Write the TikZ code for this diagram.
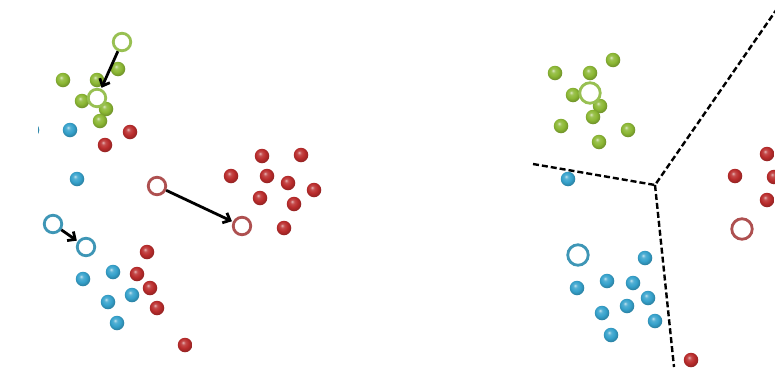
\documentclass[tikz,border=0pt]{standalone}
\usetikzlibrary{arrows.meta}
\definecolor{grn}{RGB}{140,184,52}
\definecolor{cyn}{RGB}{54,162,204}
\definecolor{rd}{RGB}{186,44,44}
\definecolor{grnring}{RGB}{152,192,82}
\definecolor{cynring}{RGB}{62,150,182}
\definecolor{rdring}{RGB}{174,80,80}
% glossy sphere shadings, lit from the upper left
\pgfdeclareradialshading{gball}{\pgfqpoint{-7bp}{9bp}}{color(0bp)=(grn!30!white); color(7bp)=(grn!85!white); color(17bp)=(grn); color(27bp)=(grn!80!black); color(50bp)=(grn!55!black)}
\pgfdeclareradialshading{cball}{\pgfqpoint{-7bp}{9bp}}{color(0bp)=(cyn!30!white); color(7bp)=(cyn!85!white); color(17bp)=(cyn); color(27bp)=(cyn!80!black); color(50bp)=(cyn!55!black)}
\pgfdeclareradialshading{rball}{\pgfqpoint{-7bp}{9bp}}{color(0bp)=(rd!35!white); color(7bp)=(rd!85!white); color(17bp)=(rd); color(27bp)=(rd!80!black); color(50bp)=(rd!55!black)}
\tikzset{
  dot/.style={circle, inner sep=0pt, minimum size=14.5pt, shading=#1},
  ctr/.style={circle, inner sep=0pt, minimum size=17.5pt, draw=#1, line width=2.8pt, fill=white},
  bigctr/.style={ctr=#1, minimum size=20.5pt},
  move/.style={line width=2.8pt, -{Straight Barb[length=6pt,width=11pt,line width=2.8pt]}, shorten >=1pt},
  border/.style={black, line width=2.4pt, dash pattern=on 6pt off 3pt},
}
\begin{document}
\begin{tikzpicture}[x=1pt, y=-1pt]
\useasboundingbox (0,0) rectangle (775,383);
\fill[white] (0,0) rectangle (775,383);
\begin{scope}
\clip (38,0) rectangle (775,383);

% ---- left panel: points and old centroids ----
\foreach \p [count=\i] in {(63,80),(97,80),(118,69),(82,101),(106,109),(100,121)}
  \node[dot=gball] (lg\i) at \p {};
\foreach \p [count=\i] in {(32,130),(70,130),(77,179),(113,272),(83,279),(132,295),(108,302),(117,323)}
  \node[dot=cball] (lc\i) at \p {};
\foreach \p [count=\i] in {(130,132),(105,145),(147,252),(137,274),(150,288),(157,308),(185,345),
    (262,156),(301,155),(231,176),(267,176),(288,183),(314,190),(260,198),(294,204),(284,228)}
  \node[dot=rball] (lr\i) at \p {};

% centroids before and after the update step
\node[ctr=grnring] (g0) at (122,42) {};
\node[ctr=grnring] (g1) at (97,98) {};
\node[ctr=cynring] (c0) at (53,224) {};
\node[ctr=cynring] (c1) at (86,247) {};
\node[ctr=rdring]  (r0) at (157,186) {};
\node[ctr=rdring]  (r1) at (242,226) {};

\draw[move] (g0) -- (g1);
\draw[move] (c0) -- (c1);
\draw[move] (r0) -- (r1);

% ---- right panel: points, centroids and cell borders ----
\foreach \p [count=\i] in {(555,73),(613,60),(590,73),(573,95),(600,106),(593,117),(561,126),(628,130),(599,142)}
  \node[dot=gball] (rg\i) at \p {};
\foreach \p [count=\i] in {(568,179),(645,258),(577,288),(607,281),(633,283),(648,298),(627,306),(602,313),(655,321),(611,335)}
  \node[dot=cball] (rc\i) at \p {};
\foreach \p [count=\i] in {(767,154),(735,176),(774,177),(767,200),(691,360)}
  \node[dot=rball] (rr\i) at \p {};

\node[bigctr=grnring] (G) at (590,93) {};
\node[bigctr=cynring] (C) at (578,255) {};
\node[bigctr=rdring]  (R) at (742,229) {};

\coordinate (J) at (655,185);
\coordinate (bw) at (533,164);
\coordinate (bn) at (779,6);
\coordinate (bs) at (674,367);
\draw[border] (bw) -- (J) -- (bn);
\draw[border] (J) -- (bs);
\end{scope}
\end{tikzpicture}
\end{document}
